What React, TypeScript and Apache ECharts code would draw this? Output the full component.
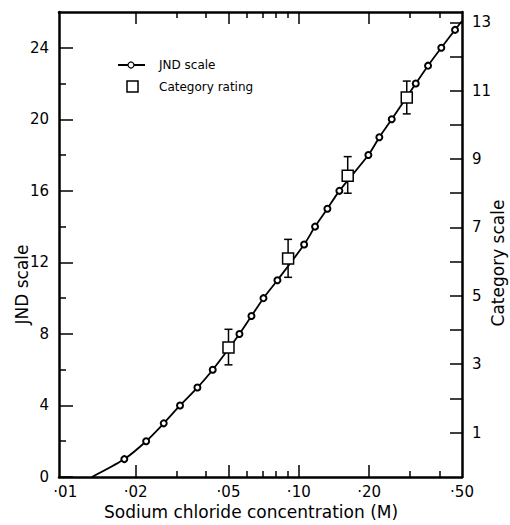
import React, { useEffect, useRef } from 'react';
import * as echarts from 'echarts';

// JND scale points (concentration in M, JND value)
const jndLevels = [1, 2, 3, 4, 5, 6, 8, 9, 10, 11, 13, 14, 15, 16, 18, 19, 20, 22, 23, 24, 25];
const jndConc = [0.0179, 0.0222, 0.0264, 0.031, 0.0368, 0.0428, 0.0557, 0.0627, 0.0706, 0.081, 0.1054, 0.1174, 0.1326, 0.1492, 0.1986, 0.2213, 0.2501, 0.3169, 0.3577, 0.4077, 0.4668];
const curveStart = [0.013, 0];
const curveEnd = [0.5, 25.5];

// Category rating (category scale) with error bars
const ratingConc = [0.05, 0.09, 0.162, 0.29];
const ratingMean = [3.49, 6.09, 8.51, 10.8];
const ratingLow = [2.98, 5.54, 8.0, 10.32];
const ratingHigh = [4.02, 6.65, 9.07, 11.28];

// Axis ticks & labels
const xLabelValues = [0.01, 0.02, 0.05, 0.1, 0.2, 0.5];
const xMajorTicks = [0.02, 0.05, 0.1, 0.2];
const xMinorTicks = [0.03, 0.04, 0.06, 0.07, 0.08, 0.09, 0.3, 0.4];
const jndLabelValues = [0, 4, 8, 12, 16, 20, 24];
const jndMinorTicks = [2, 6, 10, 14, 18, 22];
const categoryTicks = [1, 2, 3, 4, 5, 6, 7, 8, 9, 10, 11, 12, 13];
const categoryLabels = [1, 3, 5, 7, 9, 11, 13];

const FONT = 'DejaVu Sans';
const X_MIN = 0.0094;
const X_MAX = 0.5;
const TICK = '#000';

const fmtX = (v: number) => '·' + String(Math.round(v * 100)).padStart(2, '0');

function xAxisDef(position: 'top' | 'bottom', ticks: number[], len: number, showLine: boolean, showLabels: boolean, extra: any = {}) {
  return {
    type: 'log',
    logBase: 10,
    position,
    min: X_MIN,
    max: X_MAX,
    axisLine: { show: showLine, onZero: false, lineStyle: { color: '#000', width: 2.5 } },
    axisTick: { show: true, inside: false, length: -len, customValues: ticks, lineStyle: { color: TICK, width: 1.5 } },
    axisLabel: showLabels
      ? { show: true, customValues: xLabelValues, formatter: fmtX, margin: 7, color: '#000', fontSize: 15, fontFamily: FONT }
      : { show: false },
    splitLine: { show: false },
    minorTick: { show: false },
    minorSplitLine: { show: false },
    ...extra,
  };
}

export default function App() {
  const ref = useRef<HTMLDivElement>(null);
  useEffect(() => {
    document.body.style.margin = '0';
    const chart = echarts.init(ref.current!, null, { renderer: 'svg' });

    const jndData: any[] = [
      { value: curveStart, symbol: 'none' },
      ...jndConc.map((c, i) => [c, jndLevels[i]]),
      { value: curveEnd, symbol: 'none' },
    ];
    const ratingData = ratingConc.map((c, i) => [c, ratingMean[i]]);
    const errData = ratingConc.map((c, i) => [c, ratingLow[i], ratingHigh[i]]);

    const option: any = {
      animation: false,
      backgroundColor: '#fff',
      textStyle: { fontFamily: FONT, color: '#000' },
      grid: { left: 59, right: 48, top: 12, bottom: 48, containLabel: false, outerBoundsMode: 'none' },
      xAxis: [
        xAxisDef('bottom', xMajorTicks, 12, true, true, {
          name: 'Sodium chloride concentration (M)',
          nameLocation: 'middle',
          nameGap: 26,
          nameMoveOverlap: false,
          nameTextStyle: { fontSize: 17, fontFamily: FONT, color: '#000', padding: [0, 19, 0, 0] },
        }),
        xAxisDef('bottom', xMinorTicks, 6, false, false),
        xAxisDef('top', xMajorTicks, 12, true, false),
        xAxisDef('top', xMinorTicks, 6, false, false),
      ],
      yAxis: [
        {
          type: 'value',
          position: 'left',
          min: 0,
          max: 26,
          axisLine: { show: true, onZero: false, lineStyle: { color: '#000', width: 2.5 } },
          axisTick: { show: true, inside: false, length: -14, customValues: jndLabelValues, lineStyle: { color: TICK, width: 1.5 } },
          axisLabel: { show: true, customValues: jndLabelValues, margin: 10, color: '#000', fontSize: 15, fontFamily: FONT },
          splitLine: { show: false },
          name: 'JND scale',
          nameLocation: 'middle',
          nameGap: 29,
          nameMoveOverlap: false,
          nameTextStyle: { fontSize: 17, fontFamily: FONT, color: '#000', padding: [0, 80, 0, 0] },
        },
        {
          type: 'value',
          position: 'left',
          min: 0,
          max: 26,
          axisLine: { show: false, onZero: false },
          axisTick: { show: true, inside: false, length: -7, customValues: jndMinorTicks, lineStyle: { color: TICK, width: 1.5 } },
          axisLabel: { show: false },
          splitLine: { show: false },
        },
        {
          type: 'value',
          position: 'right',
          min: -0.3,
          max: 13.3,
          axisLine: { show: true, onZero: false, lineStyle: { color: '#000', width: 2.5 } },
          axisTick: { show: true, inside: false, length: -12, customValues: categoryTicks, lineStyle: { color: TICK, width: 1.5 } },
          axisLabel: { show: true, customValues: categoryLabels, margin: 10, color: '#000', fontSize: 15, fontFamily: FONT },
          splitLine: { show: false },
          name: 'Category scale',
          nameLocation: 'middle',
          nameGap: 27,
          nameMoveOverlap: false,
          nameTextStyle: { fontSize: 17, fontFamily: FONT, color: '#000', padding: [0, 37, 0, 0] },
        },
      ],
      series: [
        {
          name: 'JND scale',
          type: 'line',
          xAxisIndex: 0,
          yAxisIndex: 0,
          data: jndData,
          smooth: 0.3,
          symbol: 'emptyCircle',
          symbolSize: 6,
          lineStyle: { color: '#000', width: 1.8 },
          itemStyle: { color: '#000', borderWidth: 1.2 },
          z: 3,
        },
        {
          name: 'Category rating error',
          type: 'custom',
          xAxisIndex: 0,
          yAxisIndex: 2,
          data: errData,
          encode: { x: 0, y: [1, 2] },
          renderItem: (params: any, api: any) => {
            const x = api.value(0);
            const pLo = api.coord([x, api.value(1)]);
            const pHi = api.coord([x, api.value(2)]);
            const w = 4;
            const st = { stroke: '#000', lineWidth: 1.5 };
            return {
              type: 'group',
              children: [
                { type: 'line', shape: { x1: pLo[0], y1: pLo[1], x2: pHi[0], y2: pHi[1] }, style: st },
                { type: 'line', shape: { x1: pLo[0] - w, y1: pLo[1], x2: pLo[0] + w, y2: pLo[1] }, style: st },
                { type: 'line', shape: { x1: pHi[0] - w, y1: pHi[1], x2: pHi[0] + w, y2: pHi[1] }, style: st },
              ],
            };
          },
          z: 4,
        },
        {
          name: 'Category rating',
          type: 'scatter',
          xAxisIndex: 0,
          yAxisIndex: 2,
          data: ratingData,
          symbol: 'rect',
          symbolSize: 11,
          itemStyle: { color: '#fff', borderColor: '#000', borderWidth: 1.5, opacity: 1 },
          z: 5,
        },
      ],
      graphic: [
        { type: 'line', shape: { x1: 118, y1: 65, x2: 145, y2: 65 }, style: { stroke: '#000', lineWidth: 2 } },
        { type: 'circle', shape: { cx: 131, cy: 65, r: 3 }, style: { fill: '#fff', stroke: '#000', lineWidth: 1.2 } },
        { type: 'text', x: 159, y: 65, style: { text: 'JND scale', fill: '#000', fontSize: 12, fontFamily: FONT, verticalAlign: 'middle' } },
        { type: 'rect', shape: { x: 127, y: 81, width: 11, height: 11 }, style: { fill: '#fff', stroke: '#000', lineWidth: 1.5 } },
        { type: 'text', x: 159, y: 87, style: { text: 'Category rating', fill: '#000', fontSize: 12, fontFamily: FONT, verticalAlign: 'middle' } },
      ],
    };
    chart.setOption(option);
    return () => chart.dispose();
  }, []);
  return <div ref={ref} style={{ width: 510, height: 525 }} />;
}
